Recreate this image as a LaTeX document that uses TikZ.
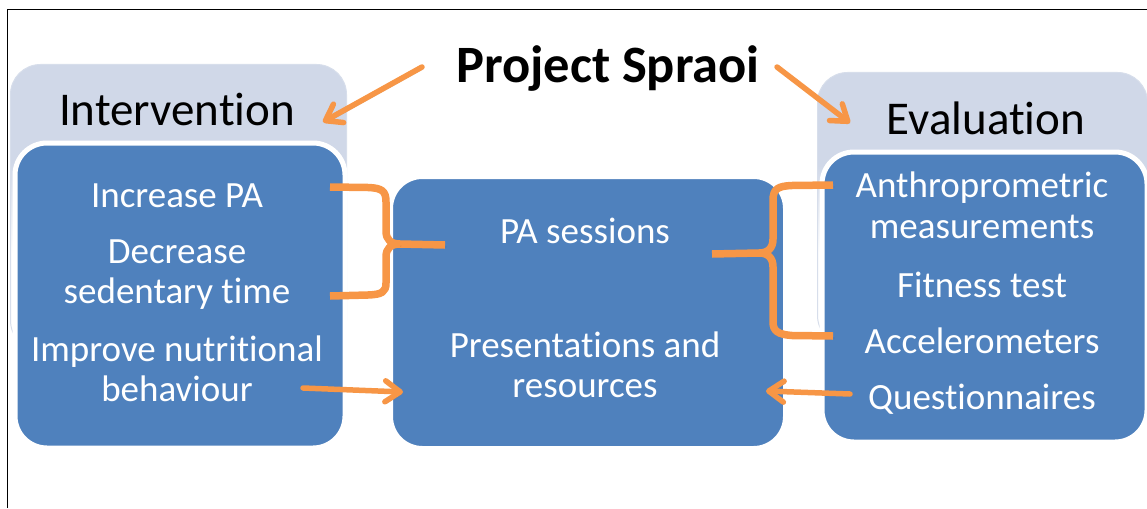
\documentclass[tikz,border=0pt]{standalone}
\usepackage{fontspec}
\setmainfont{Carlito}[Ligatures={NoCommon}]
\usetikzlibrary{arrows.meta}

\definecolor{paneblue}{HTML}{4F81BD}
\definecolor{panegrey}{HTML}{D0D8E8}
\definecolor{linkorange}{HTML}{F79646}

% header panes: solid at the top, fading to white further down
\pgfdeclareverticalshading{panefade}{100bp}{color(0bp)=(white); color(42bp)=(white); color(58bp)=(panegrey); color(100bp)=(panegrey)}

\tikzset{
  pane/.style={shading=panefade, draw=panegrey!85!white, line width=1pt,
    rounded corners=30pt, anchor=north west, inner sep=0pt},
  bluebox/.style={fill=paneblue, draw=white, line width=5pt,
    rounded corners=32pt, anchor=north west, inner sep=0pt},
  boxtext/.style={anchor=base, text=white, font=\fontsize{37}{42}\selectfont},
  headtext/.style={anchor=base, text=black, font=\fontsize{47}{53}\selectfont},
  softshadow/.style={preaction={draw=black, opacity=0.2,
    transform canvas={shift={(1.5pt,-2pt)}}}},
  brace/.style={draw=linkorange, line width=7.5pt, line cap=butt, line join=round, softshadow},
  link/.style={draw=linkorange, line width=5.5pt, line cap=round,
    -{Straight Barb[round, length=15pt, width=21pt]}, softshadow}
}

\begin{document}
\begin{tikzpicture}[x=1pt, y=-1pt]
  \useasboundingbox (0,0) rectangle (1147,508);

  % frame
  \draw[line width=1.8pt] (7.5,508) -- (7.5,9.5) -- (1147,9.5);

  % header panes
  \node[pane, minimum width=336, minimum height=286] (intPane) at (10,64) {};
  \node[pane, minimum width=330, minimum height=273] (evalPane) at (817,72) {};

  % content boxes
  \node[bluebox, minimum width=330, minimum height=305] (intBox) at (12.5,140.5) {};
  \node[bluebox, minimum width=395, minimum height=272] (midBox) at (388,174) {};
  \node[bluebox, minimum width=325, minimum height=290] (evalBox) at (819.5,149.5) {};

  % titles
  \node[anchor=base, font=\bfseries\fontsize{52.5}{60}\selectfont] (title) at (608,83) {Project Spraoi};
  \node[headtext] (intHead) at (177,125) {Intervention};
  \node[headtext] (evalHead) at (986,135) {Evaluation};

  % intervention items
  \node[boxtext] (incPA) at (177,207) {Increase PA};
  \node[boxtext] (decA) at (177,263) {Decrease};
  \node[boxtext] (decB) at (177,303) {sedentary time};
  \node[boxtext] (nutA) at (177,361) {Improve nutritional};
  \node[boxtext] (nutB) at (177,401) {behaviour};

  % middle items
  \node[boxtext] (paSes) at (585,243) {PA sessions};
  \node[boxtext] (presA) at (585,357) {Presentations and};
  \node[boxtext] (presB) at (585,397) {resources};

  % evaluation items
  \node[boxtext] (antA) at (982,197) {Anthroprometric};
  \node[boxtext] (antB) at (982,238) {measurements};
  \node[boxtext] (fit) at (982,297) {Fitness test};
  \node[boxtext] (acc) at (982,353) {Accelerometers};
  \node[boxtext] (que) at (982,409) {Questionnaires};

  % connector end points
  \coordinate (tlStart) at (422,67);
  \coordinate (tlEnd) at (323,122);
  \coordinate (trStart) at (777,67);
  \coordinate (trEnd) at (850,123);
  \coordinate (nutStart) at (303,388);
  \coordinate (nutEnd) at (403,392);
  \coordinate (queStart) at (850,394);
  \coordinate (queEnd) at (766,391);

  \coordinate (lbTop) at (330,187);
  \coordinate (lbBot) at (330,296);
  \coordinate (lbMid) at (400,244);
  \coordinate (lbTip) at (445,245);

  \coordinate (rbTop) at (833,185);
  \coordinate (rbBot) at (833,336);
  \coordinate (rbMid) at (759,253);
  \coordinate (rbTip) at (712,254);

  % left brace
  \path[brace] (lbTop) -- (368,187.5) .. controls (382,188) and (386,191) .. (386,202)
     -- (386,231) .. controls (386,240) and (391,244) .. (lbMid) -- (lbTip);
  \path[brace] (lbMid) .. controls (391,244) and (386,248) .. (386,257)
     -- (386,283) .. controls (386,292) and (382,294.5) .. (368,295) -- (lbBot);

  % right brace
  \path[brace] (rbTop) -- (792,185.5) .. controls (778,186) and (773,189) .. (773,200)
     -- (773,239) .. controls (773,248) and (768,253) .. (rbMid) -- (rbTip);
  \path[brace] (rbMid) .. controls (768,253) and (773,258) .. (773,267)
     -- (773,322) .. controls (773,331) and (778,334.5) .. (792,335.5) -- (rbBot);

  % arrows
  \path[link] (tlStart) -- (tlEnd);
  \path[link] (trStart) -- (trEnd);
  \path[link] (nutStart) -- (nutEnd);
  \path[link] (queStart) -- (queEnd);
\end{tikzpicture}
\end{document}
